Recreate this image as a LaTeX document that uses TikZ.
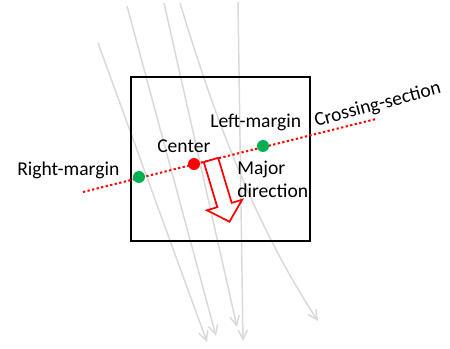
\documentclass[tikz,border=0pt]{standalone}
\usepackage{fontspec}
\setmainfont{Carlito}
\usetikzlibrary{arrows.meta,positioning}
\definecolor{flowgray}{HTML}{D9D9D9}
\definecolor{mgngreen}{HTML}{00B050}
\definecolor{ctrred}{HTML}{FF0000}
\tikzset{
  flowline/.style={-{Straight Barb[length=7pt,width=7pt]},line width=1.1pt,flowgray},
  winbox/.style={draw=black,line width=2.2pt},
  crossline/.style={ctrred,line width=1.5pt,dash pattern=on 1.7pt off 1.8pt},
  mgndot/.style={circle,fill=mgngreen,minimum size=9pt,inner sep=0pt},
  ctrdot/.style={mgndot,fill=ctrred},
  lbl/.style={font=\fontsize{14.7}{17.6}\selectfont,inner sep=0pt,anchor=base west},
  majarrow/.style={draw=ctrred,fill=white,line width=1.3pt,line join=miter},
}

\begin{document}
\begin{tikzpicture}[x=0.75pt,y=-0.75pt]
  \useasboundingbox (0,0) rectangle (450,349);
  % flow lines
  \coordinate (t1) at (98,43);   \coordinate (b1) at (207,342);
  \coordinate (t2) at (127,6);   \coordinate (b2) at (216,336);
  \coordinate (t3) at (164,3);   \coordinate (b3) at (237,327);
  \coordinate (t4) at (180,3);   \coordinate (b4) at (318,321);
  \coordinate (t5) at (238,2);   \coordinate (b5) at (243,341);
  \draw[flowline] (t1) -- (b1);
  \draw[flowline] (t2) -- (b2);
  \draw[flowline] (t3) -- (b3);
  \draw[flowline] (t4) .. controls (205,85) and (245,210) .. (b4);
  \draw[flowline] (t5) -- (b5);
  % window
  \draw[winbox] (131,77) rectangle (310,241);
  % crossing section
  \coordinate (csA) at (83,192);
  \coordinate (csB) at (376,119);
  \draw[crossline] (csA) -- (csB);
  \node[mgndot] (nRM) at (139,177) {};
  \node[ctrdot] (nC) at (194,164) {};
  \node[mgndot] (nLM) at (263,146) {};
  % major direction
  \begin{scope}[shift={(211,160)},rotate=-73.3]
    \draw[majarrow] (0,-7.5) -- (47,-7.5) -- (47,-18.4) -- (64.4,0)
      -- (47,18.4) -- (47,7.5) -- (0,7.5) -- cycle;
  \end{scope}
  % labels
  \node[lbl] (lRM) at (17,176) {Right-margin};
  \node[lbl] (lC) at (157,153) {Center};
  \node[lbl] (lLM) at (210,128) {Left-margin};
  \node[lbl,align=left] (lMD) at (237,198) {Major\\direction};
  \node[lbl,rotate=15] (lCS) at (316,127) {Crossing-section};
\end{tikzpicture}
\end{document}
